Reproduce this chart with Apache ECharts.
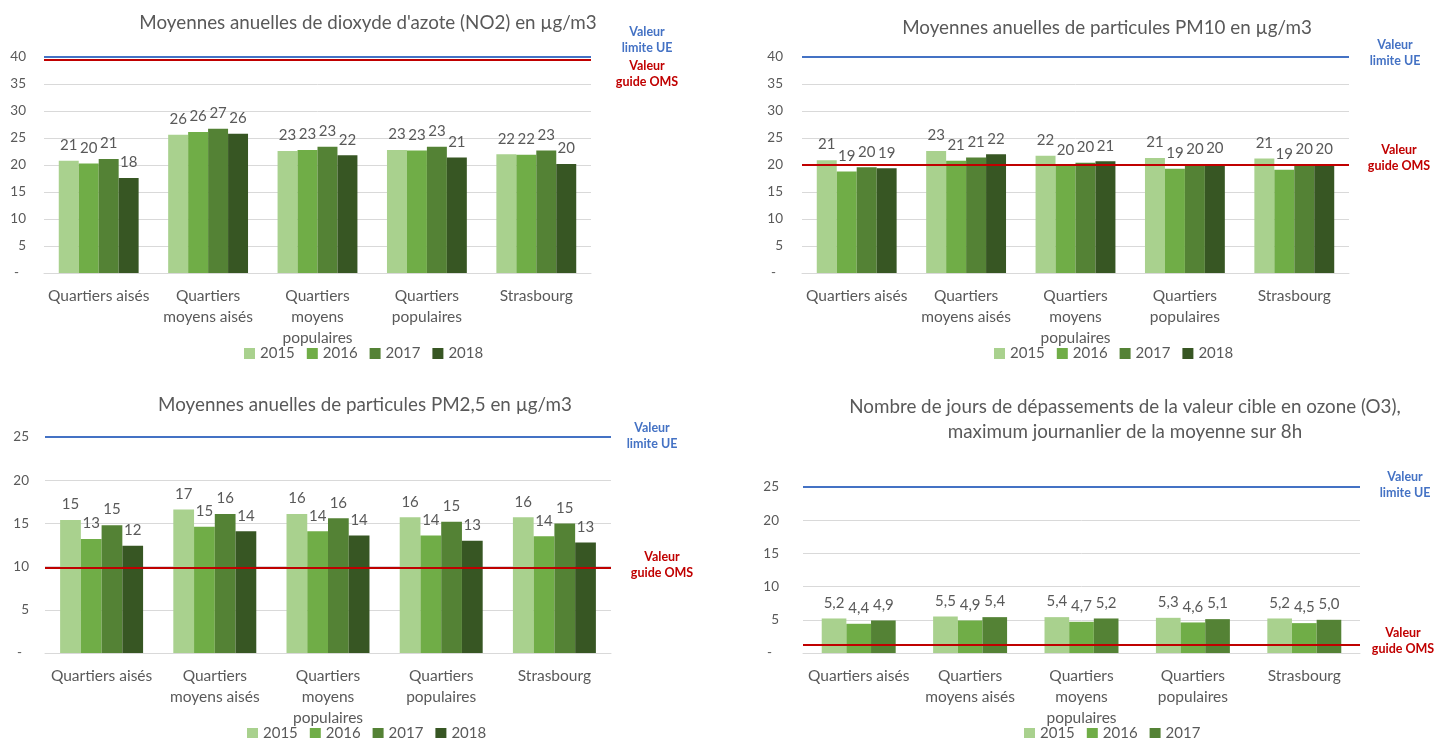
<!DOCTYPE html>
<html>
<head>
<meta charset="utf-8">
<script src="https://cdn.jsdelivr.net/npm/echarts@6/dist/echarts.min.js"></script>
<style>
  html, body { margin: 0; padding: 0; background: #ffffff; }
  #chart { width: 1436px; height: 738px; }
</style>
</head>
<body>
<div id="chart"></div>
<script>
// Neighbourhood groups (x axis of every panel)
const categories = ['Quartiers aisés', 'Quartiers\nmoyens aisés', 'Quartiers\nmoyens\npopulaires', 'Quartiers\npopulaires', 'Strasbourg'];
const years = ['2015', '2016', '2017', '2018'];

// Annual NO2 means, µg/m3
const no2_2015 = [20.8, 25.6, 22.6, 22.8, 22.0];
const no2_2016 = [20.3, 26.1, 22.8, 22.7, 21.9];
const no2_2017 = [21.1, 26.7, 23.4, 23.4, 22.7];
const no2_2018 = [17.6, 25.8, 21.8, 21.4, 20.2];

// Annual PM10 means, µg/m3
const pm10_2015 = [20.9, 22.6, 21.7, 21.3, 21.2];
const pm10_2016 = [18.8, 20.8, 19.9, 19.3, 19.1];
const pm10_2017 = [19.6, 21.4, 20.4, 20.1, 20.1];
const pm10_2018 = [19.4, 22.0, 20.7, 20.2, 20.1];

// Annual PM2.5 means, µg/m3
const pm25_2015 = [15.4, 16.6, 16.1, 15.7, 15.7];
const pm25_2016 = [13.2, 14.6, 14.1, 13.6, 13.5];
const pm25_2017 = [14.8, 16.1, 15.6, 15.2, 15.0];
const pm25_2018 = [12.4, 14.1, 13.6, 13.0, 12.8];

// Ozone: days above the target value (max daily 8h mean)
const o3_2015 = [5.2, 5.5, 5.4, 5.3, 5.2];
const o3_2016 = [4.4, 4.9, 4.7, 4.6, 4.5];
const o3_2017 = [4.9, 5.4, 5.2, 5.1, 5.0];

// Reference thresholds per panel (NO2, PM10, PM2.5, O3)
const limiteUE = [40, 40, 25, 25];
const guideOMS = [39.5, 20, 9.9, 1.2];

// Axis ranges per panel
const axisMax = [40, 40, 25, 25];
const axisStep = [5, 5, 5, 5];

// Panel titles
const titles = [
  'Moyennes anuelles de dioxyde d\'azote (NO2) en µg/m3',
  'Moyennes anuelles de particules PM10 en µg/m3',
  'Moyennes anuelles de particules PM2,5 en µg/m3',
  'Nombre de jours de dépassements de la valeur cible en ozone (O3),\nmaximum journanlier de la moyenne sur 8h'
];

const panelSeries = [
  [no2_2015, no2_2016, no2_2017, no2_2018],
  [pm10_2015, pm10_2016, pm10_2017, pm10_2018],
  [pm25_2015, pm25_2016, pm25_2017, pm25_2018],
  [o3_2015, o3_2016, o3_2017]
];

const FONT = 'Lato, "Open Sans", sans-serif';
const GRAY = '#595959';
const GRID_GRAY = '#D9D9D9';
const COLORS = ['#A9D18E', '#70AD47', '#548235', '#375623'];
const BLUE = '#4472C4';
const RED = '#C00000';

// Panel geometry
const layouts = [
  { left: 44,  top: 57,  width: 547, height: 216, gap: '27%',   yMargin: 18, legendLeft: 239,  legendTop: 341,
    title: { x: 368, y: 23 }, ue: { x: 647, y: 40 }, oms: { x: 647, y: 73.5 } },
  { left: 802, top: 57,  width: 547, height: 216, gap: '27%',   yMargin: 19, legendLeft: 989,  legendTop: 341,
    title: { x: 1107, y: 28 }, ue: { x: 1395, y: 53 }, oms: { x: 1399, y: 157.5 } },
  { left: 45,  top: 437, width: 566, height: 216, gap: '26.7%', yMargin: 16, legendLeft: 242,  legendTop: 721,
    title: { x: 365, y: 405 }, ue: { x: 652, y: 436 }, oms: { x: 662, y: 565 } },
  { left: 803, top: 487, width: 557, height: 166, gap: '33.6%', yMargin: 24, legendLeft: 1019, legendTop: 721,
    title: { x: 1125, y: 419.5 }, ue: { x: 1405, y: 485 }, oms: { x: 1403, y: 640.5 } }
];

const grid = [], xAxis = [], yAxis = [], series = [], legend = [], graphic = [];

layouts.forEach((L, p) => {
  grid.push({ left: L.left, top: L.top, width: L.width, height: L.height, containLabel: false });

  xAxis.push({
    type: 'category', gridIndex: p, data: categories,
    axisLine: { lineStyle: { color: GRID_GRAY, width: 1 } },
    axisTick: { show: false },
    axisLabel: { interval: 0, margin: 12, color: GRAY, fontFamily: FONT, fontSize: 15.5, lineHeight: 21 }
  });

  yAxis.push({
    type: 'value', gridIndex: p, min: 0, max: axisMax[p], interval: axisStep[p],
    axisLine: { show: false }, axisTick: { show: false },
    splitLine: { lineStyle: { color: GRID_GRAY, width: 1 } },
    axisLabel: {
      margin: L.yMargin, color: GRAY, fontFamily: FONT, fontSize: 13.5,
      formatter: v => (v === 0 ? '-  ' : String(v))
    }
  });

  const isO3 = p === 3;
  panelSeries[p].forEach((values, k) => {
    const s = {
      name: years[k], type: 'bar', xAxisIndex: p, yAxisIndex: p,
      data: values, barGap: '0%', barCategoryGap: L.gap,
      itemStyle: { color: COLORS[k] },
      label: {
        show: true, position: 'top', distance: 8,
        color: GRAY, fontFamily: FONT, fontSize: 15,
        formatter: prm => isO3 ? prm.value.toFixed(1).replace('.', ',') : String(Math.round(prm.value))
      }
    };
    if (k === 0) {
      s.markLine = {
        silent: true, symbol: 'none', z: 10,
        label: { show: false },
        data: [
          { yAxis: limiteUE[p], lineStyle: { color: BLUE, width: 2, type: 'solid' } },
          { yAxis: guideOMS[p], lineStyle: { color: RED, width: 2, type: 'solid' } }
        ]
      };
    }
    series.push(s);
  });

  legend.push({
    data: years.slice(0, panelSeries[p].length),
    left: L.legendLeft, top: L.legendTop,
    icon: 'rect', itemWidth: 11, itemHeight: 11, itemGap: 12,
    textStyle: { color: GRAY, fontFamily: FONT, fontSize: 15 },
    selectedMode: false
  });

  graphic.push({
    type: 'text', x: L.title.x, y: L.title.y, silent: true,
    style: { text: titles[p], align: 'center', verticalAlign: 'middle', fill: GRAY,
             font: '18.8px ' + FONT, lineHeight: 25 }
  });
  graphic.push({
    type: 'text', x: L.ue.x, y: L.ue.y, silent: true,
    style: { text: 'Valeur\nlimite UE', align: 'center', verticalAlign: 'middle', fill: BLUE,
             font: 'bold 12.5px ' + FONT, lineHeight: 16 }
  });
  graphic.push({
    type: 'text', x: L.oms.x, y: L.oms.y, silent: true,
    style: { text: 'Valeur\nguide OMS', align: 'center', verticalAlign: 'middle', fill: RED,
             font: 'bold 12.5px ' + FONT, lineHeight: 16 }
  });
});

const chart = echarts.init(document.getElementById('chart'), null, { renderer: 'canvas' });
chart.setOption({
  animation: false,
  backgroundColor: '#ffffff',
  grid, xAxis, yAxis, series, legend, graphic
});
</script>
</body>
</html>
